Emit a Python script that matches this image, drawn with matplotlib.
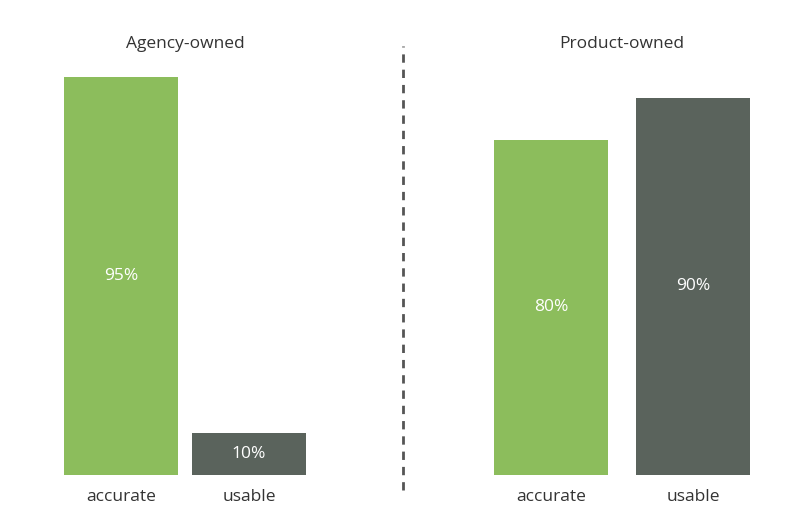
import matplotlib.pyplot as plt

groups = ["Agency-owned", "Product-owned"]
metrics = ["accurate", "usable"]
values = {"Agency-owned": [95, 10], "Product-owned": [80, 90]}
colors = ["#8cbd5c", "#5a635c"]

plt.rcParams['font.family'] = ['Open Sans', 'DejaVu Sans']

fig = plt.figure(figsize=(8, 5.26), dpi=100)
ax = fig.add_axes([0, 0, 1, 1])
ax.set_xlim(0, 800)
ax.set_ylim(-12.2, 113.4)
ax.axis('off')

centers = [[121, 249], [551, 693]]
width = 114
for g, name in enumerate(groups):
    for i, m in enumerate(metrics):
        v = values[name][i]
        x = centers[g][i]
        ax.bar(x, v, width=width, color=colors[i])
        ty = v / 2 if v > 30 else v / 2
        ax.text(x, ty, f"{v}%", color="white", ha="center", va="center", fontsize=12.5)
        ax.text(x, -5.3, m, color="#333333", ha="center", va="center", fontsize=12.5)
    ax.text(sum(centers[g]) / 2, 103, name, color="#333333", ha="center", va="center", fontsize=12.5)

ax.plot([403, 403], [-3.6, 102.5], color="#555555", lw=2, ls=(0, (3, 2.5)))

fig.savefig("out.png", dpi=100)
